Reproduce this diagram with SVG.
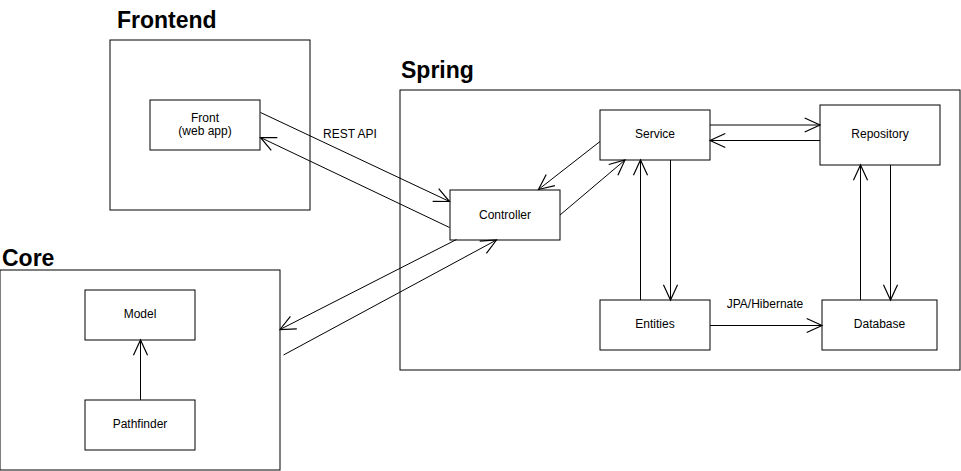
<svg xmlns="http://www.w3.org/2000/svg" width="961" height="471" viewBox="0 0 961 471">
<defs>
<style>
.box{fill:#fff;stroke:#000;stroke-width:1}
.grp{fill:none;stroke:#000;stroke-width:1}
.t{font-family:"Liberation Sans",Arial,sans-serif;font-size:12px;fill:#000;text-anchor:middle}
.h{font-family:"Liberation Sans",Arial,sans-serif;font-size:23px;font-weight:bold;fill:#000}
.c{fill:none;stroke:#000;stroke-width:1;marker-end:url(#open)}
</style>
<marker id="open" markerUnits="userSpaceOnUse" markerWidth="20" markerHeight="20" refX="0" refY="0" viewBox="-15 -8 17 16" orient="auto" overflow="visible">
<path d="M-13,-6 L0,0 L-13,6" fill="none" stroke="#000" stroke-width="1"/>
</marker>
</defs>
<rect width="961" height="471" fill="#fff"/>

<g id="frontend">
<rect class="grp" x="110" y="40" width="200" height="170"/>
<text class="h" x="117" y="28">Frontend</text>
</g>
<g id="spring">
<rect class="grp" x="400" y="90" width="560" height="280"/>
<text class="h" x="401" y="78">Spring</text>
</g>
<g id="core">
<rect class="grp" x="0" y="270" width="280" height="200"/>
<text class="h" x="2" y="266">Core</text>
</g>

<g id="front">
<rect class="box" x="150" y="100" width="110" height="50"/>
<text class="t" x="205" y="121.5">Front</text>
<text class="t" x="205" y="135">(web app)</text>
</g>
<g id="controller">
<rect class="box" x="450" y="190" width="110" height="50"/>
<text class="t" x="505" y="218.5">Controller</text>
</g>
<g id="service">
<rect class="box" x="600" y="110" width="110" height="50"/>
<text class="t" x="655" y="138">Service</text>
</g>
<g id="repository">
<rect class="box" x="820" y="105" width="120" height="60"/>
<text class="t" x="880" y="138">Repository</text>
</g>
<g id="entities">
<rect class="box" x="600" y="300" width="110" height="50"/>
<text class="t" x="655" y="328">Entities</text>
</g>
<g id="database">
<rect class="box" x="822" y="300" width="115" height="50"/>
<text class="t" x="879.5" y="328">Database</text>
</g>
<g id="model">
<rect class="box" x="85" y="290" width="110" height="50"/>
<text class="t" x="140" y="318">Model</text>
</g>
<g id="pathfinder">
<rect class="box" x="85" y="400" width="110" height="50"/>
<text class="t" x="140" y="428">Pathfinder</text>
</g>

<g id="connectors">
<path class="c" d="M260.5,112.5 L449.5,201.5"/>
<path class="c" d="M449.5,227.5 L260.5,137.5"/>
<path class="c" d="M600,141.5 L538.5,189.5"/>
<path class="c" d="M560,215 L625,160"/>
<path class="c" d="M710,125 L820,125"/>
<path class="c" d="M820,140.5 L710,140.5"/>
<path class="c" d="M640.5,300 L640.5,160"/>
<path class="c" d="M670.5,160 L670.5,300"/>
<path class="c" d="M710,325.5 L822,325.5"/>
<path class="c" d="M860.5,300 L860.5,165"/>
<path class="c" d="M890.5,165 L890.5,300"/>
<path class="c" d="M456.5,239.5 L280,329.5"/>
<path class="c" d="M283.5,355 L496.5,240"/>
<path class="c" d="M140.5,400 L140.5,340"/>
<text class="t" x="350" y="138">REST API</text>
<text class="t" x="765" y="308">JPA/Hibernate</text>
</g>
</svg>
